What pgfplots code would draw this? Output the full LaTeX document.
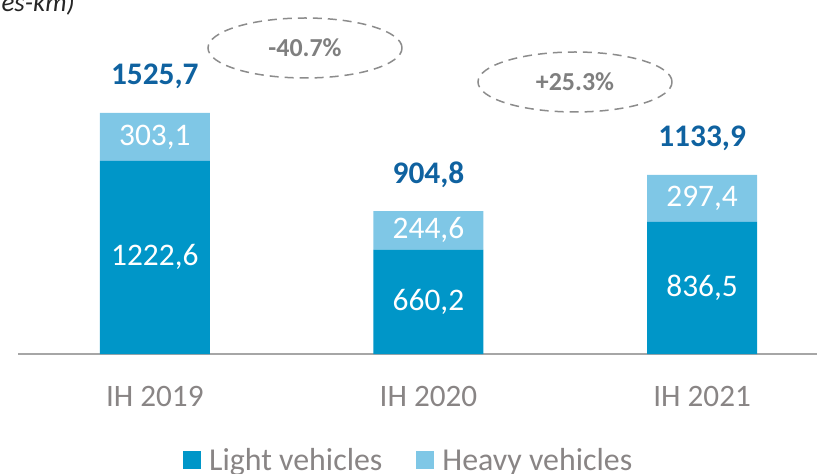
\documentclass[border=0pt]{standalone}
\usepackage{pgfplots}
\pgfplotsset{compat=1.18}
\usepackage{fontspec}
\setmainfont{Carlito}
\definecolor{lightc}{HTML}{0096C8}
\definecolor{heavyc}{HTML}{7FC7E6}
\definecolor{totalc}{HTML}{0F62A0}
\definecolor{txtgray}{HTML}{898585}
\definecolor{pctgray}{HTML}{7F7F7F}
\definecolor{ellgray}{HTML}{8C8C8C}
\definecolor{axgray}{HTML}{A6A6A6}
\definecolor{titlec}{HTML}{262626}
\tikzset{
  valstyle/.style={font=\fontsize{31.5}{37}\selectfont, text=white},
  totstyle/.style={font=\fontsize{31.5}{37}\selectfont\bfseries, text=totalc, anchor=base, yshift=28bp},
}
\begin{document}
\begin{tikzpicture}
\useasboundingbox (0bp,0bp) rectangle (817bp,474bp);
\node[anchor=base east, font=\fontsize{27}{32}\selectfont\itshape, text=titlec, inner sep=0pt] at (75bp,462bp) {(million vehicles-km)};
\begin{axis}[
  at={(18bp,120bp)}, anchor=south west,
  scale only axis, width=799bp, height=354bp,
  ybar stacked, bar width=110bp,
  xmin=-0.5, xmax=2.42, ymin=0, ymax=2240,
  axis x line=bottom, axis y line=none,
  x axis line style={-, draw=axgray, line width=1.5bp},
  xtick={0,1,2}, xticklabels={IH 2019, IH 2020, IH 2021},
  xtick style={draw=none}, major tick length=0pt,
  xticklabel style={anchor=base, yshift=-52bp, font=\fontsize{31.3}{37}\selectfont, text=txtgray},
  ytick=\empty,
  clip=false,
  legend columns=2,
  legend image code/.code={\fill[#1] (0bp,-9bp) rectangle (18bp,9bp);},
  legend style={at={(0.489,-0.30)}, anchor=center, draw=none, fill=none,
    font=\fontsize{32}{38}\selectfont, text=txtgray,
    /tikz/every odd column/.append style={column sep=6bp},
    /tikz/every even column/.append style={column sep=32bp}},
]
\addplot[fill=lightc, draw=none] coordinates {(0,1222.6) (1,660.2) (2,836.5)};
\addplot[fill=heavyc, draw=none] coordinates {(0,303.1) (1,244.6) (2,297.4)};
\legend{Light vehicles, Heavy vehicles}
\coordinate (l0) at (axis cs:0,611.3);
\coordinate (l1) at (axis cs:1,330.1);
\coordinate (l2) at (axis cs:2,418.25);
\coordinate (h0) at (axis cs:0,1374.15);
\coordinate (h1) at (axis cs:1,782.5);
\coordinate (h2) at (axis cs:2,985.2);
\coordinate (t0) at (axis cs:0,1525.7);
\coordinate (t1) at (axis cs:1,904.8);
\coordinate (t2) at (axis cs:2,1133.9);
\end{axis}
\node[valstyle] at (l0) {1222,6};
\node[valstyle] at (l1) {660,2};
\node[valstyle] at (l2) {836,5};
\node[valstyle] at (h0) {303,1};
\node[valstyle] at (h1) {244,6};
\node[valstyle] at (h2) {297,4};
\node[totstyle] at (t0) {1525,7};
\node[totstyle] at (t1) {904,8};
\node[totstyle] at (t2) {1133,9};
\draw[ellgray, line width=1.5bp, dash pattern=on 9bp off 6bp] (305bp,426bp) ellipse [x radius=97bp, y radius=30bp];
\node[font=\fontsize{26}{31}\selectfont\bfseries, text=pctgray] at (305bp,426bp) {-40.7\%};
\draw[ellgray, line width=1.5bp, dash pattern=on 9bp off 6bp] (575bp,392bp) ellipse [x radius=97bp, y radius=30bp];
\node[font=\fontsize{26}{31}\selectfont\bfseries, text=pctgray] at (575bp,392bp) {+25.3\%};
\end{tikzpicture}
\end{document}
